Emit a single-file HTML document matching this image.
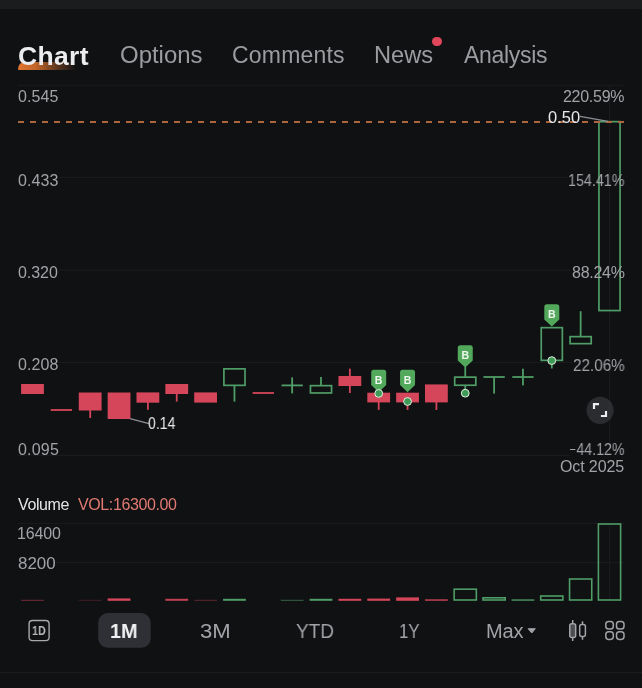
<!DOCTYPE html>
<html><head><meta charset="utf-8"><title>Chart</title>
<style>
html,body{margin:0;padding:0;background:#101113;}
body{width:642px;height:688px;position:relative;overflow:hidden;font-family:"Liberation Sans",sans-serif;color:#a3a4a8;}
.t{position:absolute;white-space:nowrap;line-height:1;will-change:transform;}
.ax{font-size:15px;color:#a2a3a7;letter-spacing:.3px}
.r{text-align:right;right:18px}
.tab{font-size:23px;color:#9b9ca0;top:44.2px}
.tb{font-size:19px;color:#a2a3a7;top:621px}
svg{position:absolute;left:0;top:0}
</style></head><body>
<div style="position:absolute;left:0;top:0;width:642px;height:9px;background:#1b1c1e"></div>
<div style="position:absolute;left:0;top:672px;width:642px;height:1px;background:#1a1b1d"></div>
<!-- tab underline -->
<div style="position:absolute;left:17.6px;top:61.8px;width:58px;height:8px;border-top-left-radius:7px 8px;border-bottom-left-radius:1px;background:linear-gradient(90deg,#e2752f 0%,rgba(226,117,47,.85) 30%,rgba(226,117,47,.4) 65%,rgba(226,117,47,0) 100%)"></div>
<div class="t" id="chart" style="left:18.48px;top:43.05px;font-size:26.5px;font-weight:bold;letter-spacing:0.34px;color:#ececee">Chart</div>
<div class="t" id="opt" style="transform:scaleX(1.0415);transform-origin:0 50%;left:120.07px;top:44.00px;font-size:23px;color:#9b9ca0">Options</div>
<div class="t" id="com" style="left:232.45px;top:44.00px;font-size:23px;letter-spacing:0.19px;color:#9b9ca0">Comments</div>
<div class="t" id="news" style="transform:scaleX(1.0286);transform-origin:0 50%;left:374.42px;top:44.00px;font-size:23px;color:#9b9ca0">News</div>
<div class="t" id="ana" style="left:463.94px;top:44.00px;font-size:23px;letter-spacing:-0.29px;color:#9b9ca0">Analysis</div>
<div style="position:absolute;left:432.3px;top:36.5px;width:9.4px;height:9.4px;border-radius:50%;background:#e0475a"></div>

<svg width="642" height="688" viewBox="0 0 642 688">
<g fill="#1c1d20">
<rect x="18" y="84.7" width="606" height="1"/>
<rect x="59" y="176.8" width="509" height="1"/>
<rect x="59" y="269.6" width="512" height="1"/>
<rect x="59" y="361.8" width="513" height="1"/>
<rect x="18" y="454.8" width="552" height="1"/>
<rect x="609.2" y="85" width="1" height="357"/>
<rect x="18" y="522.8" width="606" height="1"/>
<rect x="56" y="561.8" width="568" height="1"/>
<rect x="609.2" y="523" width="1" height="78"/>
</g>
<rect x="21.10" y="384" width="22.8" height="10.00" fill="#d5465a"/>
<rect x="50.70" y="409.10" width="21.3" height="1.8" fill="#d5465a"/>
<rect x="89.30" y="410" width="1.8" height="8.00" fill="#d5465a"/>
<rect x="78.80" y="392.5" width="22.8" height="18.00" fill="#d5465a"/>
<rect x="107.65" y="392.5" width="22.8" height="26.50" fill="#d5465a"/>
<rect x="147.00" y="402" width="1.8" height="7.80" fill="#d5465a"/>
<rect x="136.50" y="392.4" width="22.8" height="10.30" fill="#d5465a"/>
<rect x="175.85" y="393" width="1.8" height="8.60" fill="#d5465a"/>
<rect x="165.35" y="384" width="22.8" height="10.00" fill="#d5465a"/>
<rect x="194.20" y="392.4" width="22.8" height="10.20" fill="#d5465a"/>
<rect x="233.55" y="386" width="1.8" height="15.60" fill="#4f9d67"/>
<rect x="223.90" y="368.85" width="21.10" height="16.50" fill="none" stroke="#4f9d67" stroke-width="1.7"/>
<rect x="252.65" y="392.10" width="21.3" height="1.8" fill="#d5465a"/>
<rect x="281.50" y="384.50" width="21.3" height="1.8" fill="#4f9d67"/>
<rect x="291.25" y="377.4" width="1.8" height="16.00" fill="#4f9d67"/>
<rect x="320.10" y="377" width="1.8" height="8.50" fill="#4f9d67"/>
<rect x="310.45" y="385.65" width="21.10" height="7.30" fill="none" stroke="#4f9d67" stroke-width="1.7"/>
<rect x="348.95" y="368.7" width="1.8" height="24.30" fill="#d5465a"/>
<rect x="338.45" y="376" width="22.8" height="10.00" fill="#d5465a"/>
<rect x="377.80" y="402" width="1.8" height="7.90" fill="#d5465a"/>
<rect x="367.30" y="392.7" width="22.8" height="9.70" fill="#d5465a"/>
<rect x="406.65" y="402" width="1.8" height="7.90" fill="#d5465a"/>
<rect x="396.15" y="392.7" width="22.8" height="9.70" fill="#d5465a"/>
<rect x="435.50" y="402" width="1.8" height="7.90" fill="#d5465a"/>
<rect x="425.00" y="384.4" width="22.8" height="18.00" fill="#d5465a"/>
<rect x="464.35" y="367" width="1.8" height="10.00" fill="#4f9d67"/>
<rect x="464.35" y="385.5" width="1.8" height="7.50" fill="#4f9d67"/>
<rect x="454.70" y="377.15" width="21.10" height="8.10" fill="none" stroke="#4f9d67" stroke-width="1.7"/>
<rect x="483.45" y="376.10" width="21.3" height="1.8" fill="#4f9d67"/>
<rect x="493.20" y="377" width="1.8" height="16.60" fill="#4f9d67"/>
<rect x="512.30" y="376.10" width="21.3" height="1.8" fill="#4f9d67"/>
<rect x="522.05" y="368.7" width="1.8" height="16.70" fill="#4f9d67"/>
<rect x="550.90" y="360" width="1.8" height="8.50" fill="#4f9d67"/>
<rect x="541.25" y="327.65" width="21.10" height="32.70" fill="none" stroke="#4f9d67" stroke-width="1.7"/>
<rect x="579.75" y="311.2" width="1.8" height="25.30" fill="#4f9d67"/>
<rect x="570.10" y="336.65" width="21.10" height="7.00" fill="none" stroke="#4f9d67" stroke-width="1.7"/>
<rect x="598.95" y="121.65" width="21.10" height="188.90" fill="none" stroke="#4f9d67" stroke-width="1.7"/>
<path d="M373.70,369.8 H383.70 Q386.20,369.8 386.20,372.3 V385.0 L378.70,392.2 L371.20,385.0 V372.3 Q371.20,369.8 373.70,369.8 Z" fill="#52a85b"/>
<text x="378.70" y="383.6" font-size="10.6" font-weight="bold" fill="#eef8ee" text-anchor="middle" font-family="Liberation Sans, sans-serif">B</text>
<circle cx="378.70" cy="393.4" r="3.9" fill="#3f9b58" stroke="#e4efe2" stroke-width="1"/>
<path d="M402.55,369.8 H412.55 Q415.05,369.8 415.05,372.3 V385.0 L407.55,392.2 L400.05,385.0 V372.3 Q400.05,369.8 402.55,369.8 Z" fill="#52a85b"/>
<text x="407.55" y="383.6" font-size="10.6" font-weight="bold" fill="#eef8ee" text-anchor="middle" font-family="Liberation Sans, sans-serif">B</text>
<circle cx="407.55" cy="401.5" r="3.9" fill="#3f9b58" stroke="#e4efe2" stroke-width="1"/>
<path d="M460.25,345.3 H470.25 Q472.75,345.3 472.75,347.8 V360.5 L465.25,367.6 L457.75,360.5 V347.8 Q457.75,345.3 460.25,345.3 Z" fill="#52a85b"/>
<text x="465.25" y="359.1" font-size="10.6" font-weight="bold" fill="#eef8ee" text-anchor="middle" font-family="Liberation Sans, sans-serif">B</text>
<circle cx="465.25" cy="393.2" r="3.9" fill="#3f9b58" stroke="#e4efe2" stroke-width="1"/>
<path d="M546.80,304.3 H556.80 Q559.30,304.3 559.30,306.8 V319.5 L551.80,326.6 L544.30,319.5 V306.8 Q544.30,304.3 546.80,304.3 Z" fill="#52a85b"/>
<text x="551.80" y="318.1" font-size="10.6" font-weight="bold" fill="#eef8ee" text-anchor="middle" font-family="Liberation Sans, sans-serif">B</text>
<circle cx="551.80" cy="360.6" r="3.9" fill="#3f9b58" stroke="#e4efe2" stroke-width="1"/>
<rect x="21.10" y="599.80" width="22.8" height="1" fill="#d5465a" opacity="0.5"/>
<rect x="78.80" y="599.80" width="22.8" height="1" fill="#d5465a" opacity="0.25"/>
<rect x="107.65" y="598.40" width="22.8" height="2.4" fill="#d5465a" opacity="1"/>
<rect x="165.35" y="598.80" width="22.8" height="2" fill="#d5465a" opacity="0.9"/>
<rect x="194.20" y="599.80" width="22.8" height="1" fill="#d5465a" opacity="0.4"/>
<rect x="223.05" y="598.80" width="22.8" height="2" fill="#4f9d67" opacity="1"/>
<rect x="280.75" y="599.80" width="22.8" height="1" fill="#4f9d67" opacity="0.6"/>
<rect x="309.60" y="598.80" width="22.8" height="2" fill="#4f9d67" opacity="1"/>
<rect x="338.45" y="598.80" width="22.8" height="2" fill="#d5465a" opacity="1"/>
<rect x="367.30" y="598.60" width="22.8" height="2.2" fill="#d5465a" opacity="1"/>
<rect x="396.15" y="597.40" width="22.8" height="3.4" fill="#d5465a" opacity="1"/>
<rect x="425.00" y="599.30" width="22.8" height="1.5" fill="#d5465a" opacity="0.9"/>
<rect x="454.15" y="589.20" width="22.20" height="10.80" fill="none" stroke="#4f9d67" stroke-width="1.6"/>
<rect x="483.00" y="597.80" width="22.20" height="2.20" fill="none" stroke="#4f9d67" stroke-width="1.6"/>
<rect x="511.55" y="599.30" width="22.8" height="1.5" fill="#4f9d67" opacity="0.9"/>
<rect x="540.70" y="596.00" width="22.20" height="4.00" fill="none" stroke="#4f9d67" stroke-width="1.6"/>
<rect x="569.55" y="579.00" width="22.20" height="21.00" fill="none" stroke="#4f9d67" stroke-width="1.6"/>
<rect x="598.40" y="524.00" width="22.20" height="76.00" fill="none" stroke="#4f9d67" stroke-width="1.6"/>
<line x1="18" y1="121.9" x2="624" y2="121.9" stroke="#ad653e" stroke-width="2" stroke-dasharray="6 6"/>
<path d="M130,418.6 L149,423.6" stroke="#8b8f94" stroke-width="1.3" fill="none"/>
<path d="M580,116.4 L608,121.4" stroke="#8b8f94" stroke-width="1.3" fill="none"/>
<circle cx="600.1" cy="410.3" r="13.6" fill="#2b2c2f"/>
<rect x="609.2" y="401" width="1" height="19" fill="#323336"/>
<path d="M594,409 V404.2 H599 M606,410.9 V416 H600.9" stroke="#ededee" stroke-width="2.2" fill="none"/>
<!-- toolbar icons -->
<rect x="29.1" y="620.5" width="20" height="20.1" rx="3.4" fill="none" stroke="#a9a9ac" stroke-width="1.4"/>
<rect x="98.2" y="613.1" width="52.5" height="34.6" rx="9.5" fill="#2e3035"/>
<path d="M528.2,628.7 H535.3 L531.75,633 Z" fill="#a2a3a7" stroke="#a2a3a7" stroke-width="1" stroke-linejoin="round"/>
<g fill="none" stroke="#a2a3a7" stroke-width="1.5">
<path d="M572.7,620.1 V623.7 M572.7,637.5 V640.9 M582.5,621.3 V624.4 M582.5,636.5 V639.8"/>
<rect x="569.75" y="623.75" width="5.9" height="13.7" rx="2" fill="#4c4d50"/>
<rect x="579.7" y="624.45" width="5.7" height="12" rx="2"/>
<rect x="605.8" y="621.5" width="7.5" height="7.6" rx="2.8"/>
<rect x="616.5" y="621.5" width="7.5" height="7.6" rx="2.8"/>
<rect x="605.8" y="631.8" width="7.5" height="7.6" rx="2.8"/>
<rect x="616.5" y="631.8" width="7.5" height="7.6" rx="2.8"/>
</g>
</svg>

<div class="t" id="l0" style="left:17.98px;top:88.60px;font-size:16px;letter-spacing:0.11px;color:#a2a3a7">0.545</div>
<div class="t" id="l1" style="left:17.98px;top:172.87px;font-size:16px;letter-spacing:0.06px;color:#a2a3a7">0.433</div>
<div class="t" id="l2" style="left:17.98px;top:265.00px;font-size:16px;letter-spacing:-0.04px;color:#a2a3a7">0.320</div>
<div class="t" id="l3" style="left:17.98px;top:357.35px;font-size:16px;letter-spacing:0.06px;color:#a2a3a7">0.208</div>
<div class="t" id="l4" style="left:17.98px;top:441.80px;font-size:16px;letter-spacing:0.19px;color:#a2a3a7">0.095</div>
<div class="t" id="r0" style="left:562.73px;top:88.60px;font-size:16px;letter-spacing:-0.28px;color:#a2a3a7">220.59%</div>
<div class="t" id="r1" style="transform:scaleX(0.8937);transform-origin:0 50%;left:567.93px;top:172.60px;font-size:16px;color:#a2a3a7">154.41%</div>
<div class="t" id="r2" style="left:572.02px;top:265.00px;font-size:16px;letter-spacing:-0.27px;color:#a2a3a7">88.24%</div>
<div class="t" id="r3" style="transform:scaleX(0.9528);transform-origin:0 50%;left:572.94px;top:357.53px;font-size:16px;color:#a2a3a7">22.06%</div>
<div class="t" id="r4" style="transform:scaleX(0.8878);transform-origin:0 50%;left:569.70px;top:441.89px;font-size:16px;color:#a2a3a7"><span style="display:inline-block;width:5.6px;height:1.4px;background:#a2a3a7;vertical-align:4.9px;margin-right:1.6px"></span>44.12%</div>
<div class="t" id="r5" style="left:559.83px;top:458.60px;font-size:16px;letter-spacing:-0.12px;color:#a2a3a7">Oct 2025</div>
<div class="t" id="p50" style="transform:scaleX(1.0289);transform-origin:0 50%;left:547.67px;top:109.80px;font-size:16px;color:#e9e9eb">0.50</div>
<div class="t" id="p14" style="transform:scaleX(0.8792);transform-origin:0 50%;left:148.45px;top:416.09px;font-size:16px;color:#e9e9eb">0.14</div>
<div class="t" id="vol" style="left:17.76px;top:497.00px;font-size:16px;letter-spacing:-0.39px;color:#e6e6e8">Volume</div>
<div class="t" id="volv" style="left:78.22px;top:497.10px;font-size:16px;letter-spacing:-0.39px;color:#e07a72">VOL:16300.00</div>
<div class="t" id="v0" style="left:17.15px;top:526.11px;font-size:16px;letter-spacing:-0.16px;color:#a2a3a7">16400</div>
<div class="t" id="v1" style="transform:scaleX(1.0573);transform-origin:0 50%;left:17.73px;top:556.37px;font-size:16px;color:#a2a3a7">8200</div>
<div class="t" id="m1" style="transform:scaleX(0.9432);transform-origin:0 50%;left:109.79px;top:620.00px;font-size:21px;font-weight:bold;color:#f2f2f4">1M</div>
<div class="t" id="m3" style="transform:scaleX(1.1062);transform-origin:0 50%;left:200.43px;top:621.00px;font-size:20px;color:#a2a3a7">3M</div>
<div class="t" id="ytd" style="transform:scaleX(0.9517);transform-origin:0 50%;left:295.72px;top:621.00px;font-size:20px;color:#a2a3a7">YTD</div>
<div class="t" id="y1" style="transform:scaleX(0.8440);transform-origin:0 50%;left:399.02px;top:621.22px;font-size:20px;color:#a2a3a7">1Y</div>
<div class="t" id="max" style="left:486.15px;top:620.80px;font-size:20px;letter-spacing:-0.13px;color:#a2a3a7">Max</div>
<div class="t" id="d1" style="transform:scaleX(0.8619);transform-origin:0 50%;left:31.60px;top:625.00px;font-size:12.4px;font-weight:bold;color:#b5b5b8">1D</div>
</body></html>
